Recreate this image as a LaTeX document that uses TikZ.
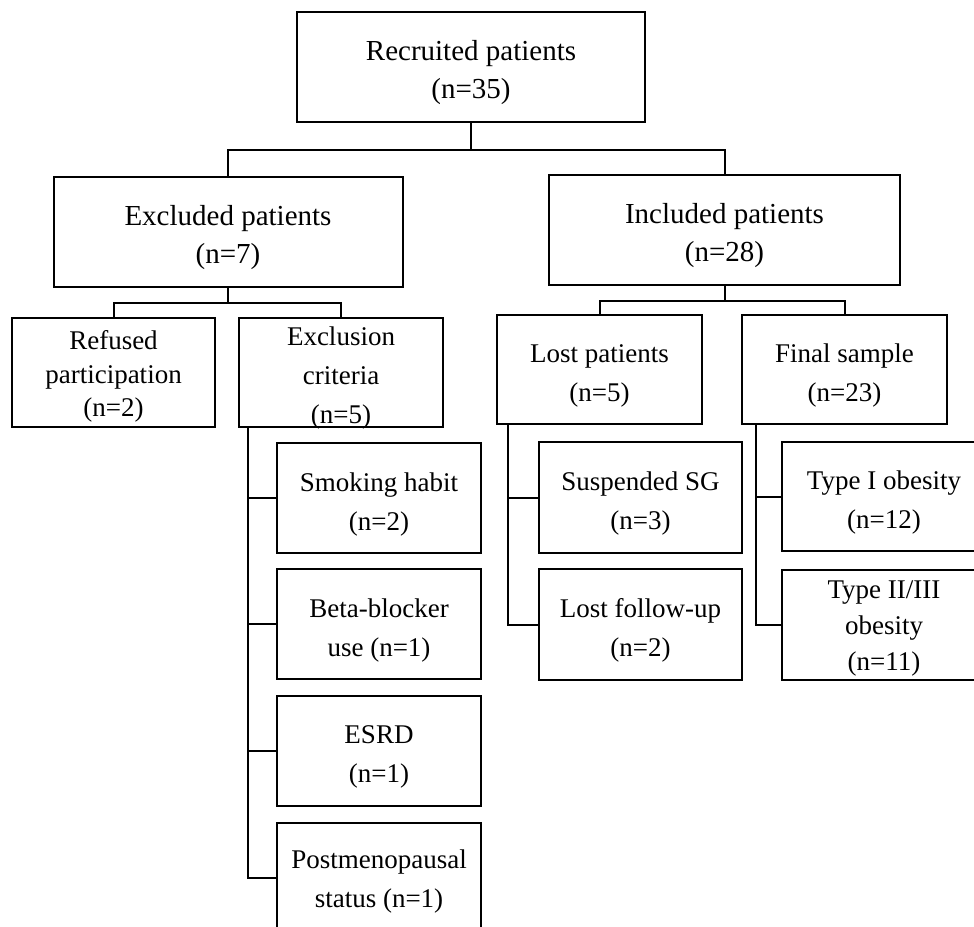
\documentclass[tikz,border=0pt]{standalone}
\usepackage{fontspec}
\setmainfont{Liberation Serif}
\newcommand{\hdfont}{\fontsize{29}{38}\selectfont}
\newcommand{\sbfont}{\fontsize{27}{39}\selectfont}

\begin{document}
\begin{tikzpicture}[x=1pt,y=-1pt,
  box/.style={draw, line width=2pt, minimum width=204pt, minimum height=110pt, inner sep=0pt},
  wide/.style={box, minimum width=349pt},
  txt/.style 2 args={label={[align=center, font=\sbfont, yshift=-6pt, #1]center:{#2}}},
  hdtxt/.style={label={[align=center, font=\hdfont, yshift=-6pt]center:{#1}}},
  link/.style={line width=2pt}]
\useasboundingbox (0,0) rectangle (974,926);
\clip (0,0) rectangle (974,926);
% Top
\node[wide, minimum width=348pt, hdtxt={Recruited patients\\(n=35)}] (rec) at (471,67) {};
% Excluded / included
\node[wide, hdtxt={Excluded patients\\(n=7)}] (exc) at (228,232) {};
\node[wide, minimum width=351pt, hdtxt={Included patients\\(n=28)}] (inc) at (724.5,230) {};
\draw[link] (rec.south) -- ++(0,27) -| (exc.north);
\draw[link] (rec.south) -- ++(0,27) -| (inc.north);
% Why excluded
\node[box, minimum width=203pt, minimum height=109pt, txt={font=\fontsize{27}{33.5}\selectfont, yshift=2pt}{Refused\\participation\\(n=2)}] (ref) at (113.5,372.5) {};
\node[box, minimum height=109pt, txt={yshift=0.5pt}{Exclusion\\criteria\\(n=5)}] (crit) at (341,372.5) {};
\draw[link] (exc.south) -- ++(0,15) -| (ref.north);
\draw[link] (exc.south) -- ++(0,15) -| (crit.north);
% What happened to the included
\node[box, minimum width=205pt, minimum height=109pt, txt={}{Lost patients\\(n=5)}] (lost) at (599.5,369.5) {};
\node[box, minimum width=205pt, minimum height=109pt, txt={}{Final sample\\(n=23)}] (fin) at (844.5,369.5) {};
\draw[link] (inc.south) -- ++(0,15) -| (lost.north);
\draw[link] (inc.south) -- ++(0,15) -| (fin.north);
% Exclusion criteria, one by one
\node[box, txt={}{Smoking habit\\(n=2)}] (smk) at (379,498) {};
\node[box, txt={}{Beta-blocker\\use (n=1)}] (beta) at (379,624) {};
\node[box, txt={}{ESRD\\(n=1)}] (esrd) at (379,751) {};
\node[box, txt={yshift=3pt}{Postmenopausal\\status (n=1)}] (post) at (379,878) {};
\draw[link] (crit.south west) ++(10,0) |- (smk.west);
\draw[link] (crit.south west) ++(10,0) |- (beta.west);
\draw[link] (crit.south west) ++(10,0) |- (esrd.west);
\draw[link] (crit.south west) ++(10,0) |- (post.west);
% Lost patients
\node[box, minimum width=203pt, minimum height=111pt, txt={}{Suspended SG\\(n=3)}] (susp) at (640.5,497.5) {};
\node[box, minimum width=203pt, minimum height=111pt, txt={}{Lost follow-up\\(n=2)}] (flw) at (640.5,624.5) {};
\draw[link] (lost.south west) ++(12,0) |- (susp.west);
\draw[link] (lost.south west) ++(12,0) |- (flw.west);
% Final sample by obesity type
\node[box, minimum height=109pt, txt={}{Type I obesity\\(n=12)}] (ty1) at (884,496.5) {};
\node[box, txt={font=\fontsize{27}{36}\selectfont, yshift=2.5pt}{Type II/III\\obesity\\(n=11)}] (ty2) at (884,625) {};
\draw[link] (fin.south west) ++(15,0) |- (ty1.west);
\draw[link] (fin.south west) ++(15,0) |- (ty2.west);
\end{tikzpicture}
\end{document}
